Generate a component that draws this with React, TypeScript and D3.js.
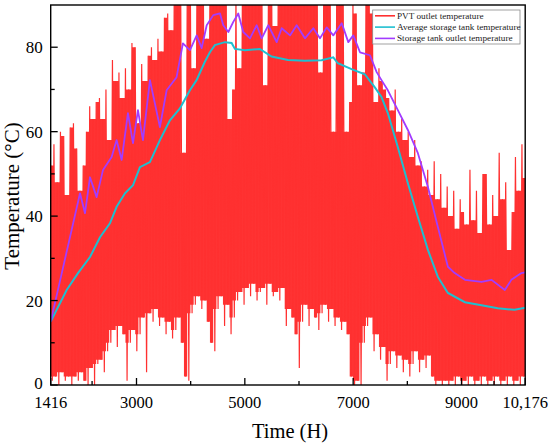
import * as d3 from "d3";

// PVT outlet temperature, sampled every 60 h from 1416 h: daily peak and night low
const pvtStartHour = 1416;
const pvtStepHours = 60;
const pvtHigh = [
  52, 57, 48, 60, 59, 45, 61, 62, 56, 46, 52, 60, 66, 63, 67, 68, 63, 70, 58, 77,
  72, 74, 68, 75, 70, 81, 80, 62, 76, 72, 78, 80, 77, 82, 79, 87, 88, 84, 92, 90,
  93, 55, 92, 90, 75, 94, 92, 90, 82, 95, 93, 92, 94, 90, 92, 63, 70, 93, 75, 95,
  92, 94, 91, 93, 95, 92, 71, 94, 93, 85, 92, 95, 93, 91, 94, 92, 95, 90, 93, 92,
  94, 90, 93, 74, 92, 94, 91, 60, 92, 93, 90, 60, 67, 92, 88, 71, 74, 90, 91, 88,
  67, 75, 72, 70, 68, 65, 70, 60, 63, 58, 60, 54, 58, 52, 53, 47, 51, 45, 53, 44,
  50, 42, 47, 40, 46, 37, 44, 41, 38, 51, 39, 46, 36, 50, 50, 38, 45, 40, 55, 44,
  48, 32, 41, 54, 46, 57, 49,
];
const pvtLow = [
  1, 2, 0, 3, 1, 2, 0, 2, 1, 3, 1, 0, 4, 0, 5, 6, 3, 8, 10, 13,
  9, 14, 12, 1, 10, 13, 8, 12, 16, 3, 17, 15, 18, 14, 16, 12, 15, 11, 13, 16,
  10, 2, 1, 17, 19, 21, 18, 20, 15, 10, 8, 18, 21, 14, 19, 12, 16, 20, 22, 19,
  23, 21, 24, 20, 22, 23, 19, 24, 21, 22, 20, 23, 14, 18, 16, 12, 4, 15, 19, 14,
  18, 16, 13, 17, 19, 15, 18, 14, 16, 13, 15, 12, 2, 0, 1, 0, 10, 14, 16, 8,
  12, 6, 9, 1, 5, 8, 4, 7, 3, 6, 2, 5, 8, 3, 6, 4, 7, 2, 0, 1,
  0, 1, 0, 1, 0, 2, 0, 1, 0, 2, 0, 1, 0, 2, 0, 1, 0, 2, 0, 1,
  0, 2, 0, 1, 0, 2, 0,
];

// Average storage tank temperature
const avgHours = [
  1416, 1711, 1920, 2141, 2326, 2510, 2633, 2787, 2935, 3063, 3248, 3432, 3617, 3801,
  3986, 4109, 4260, 4355, 4447, 4632, 4756, 4817, 5001, 5278, 5493, 5797, 6108, 6416,
  6633, 6717, 6970, 7215, 7400, 7523, 7640, 7825, 8010, 8195, 8380, 8564, 8749, 9063,
  9369, 9670, 9980, 10176,
];
const avgTemp = [
  15, 22.5, 26.5, 30.3, 35, 38.3, 42.2, 45.4, 47.3, 51.6, 52.8, 58, 62.7, 65.5,
  69.8, 72.2, 76.5, 78.8, 80.5, 81.2, 81, 79.6, 79.3, 79.6, 77.8, 77, 76.8, 76.9,
  77.6, 76.2, 74.8, 73.6, 70.5, 68.2, 64.4, 56.3, 47.8, 39.8, 32, 25.6, 21.8, 19.6,
  18.9, 18.2, 17.8, 18.3,
];

// Storage tank outlet temperature
const outletHours = [
  1416, 1957, 2049, 2141, 2264, 2381, 2541, 2633, 2726, 2842, 2935, 3027, 3119, 3248,
  3432, 3556, 3740, 3857, 3987, 4111, 4203, 4296, 4418, 4541, 4602, 4695, 4787, 4879,
  4971, 5095, 5219, 5311, 5433, 5588, 5680, 5834, 5957, 6110, 6264, 6387, 6511, 6633,
  6788, 6910, 7002, 7126, 7310, 7434, 7523, 7640, 7825, 8010, 8195, 8380, 8564, 8749,
  8875, 9063, 9369, 9555, 9800, 9920, 10106, 10176,
];
const outletTemp = [
  15, 45.4, 40.7, 49.2, 44.5, 50.9, 54, 58, 53.3, 64.4, 57.3, 65.1, 58, 72.2,
  61.1, 69.8, 72.9, 80.9, 79.3, 82.8, 79.8, 85.2, 87.6, 88, 85.2, 83.6, 86, 88,
  83.6, 82.1, 85.2, 82.1, 85.2, 81.2, 84.5, 82.8, 85.2, 82.1, 84.5, 82.1, 84.7, 82.8,
  85.7, 81.2, 82.8, 78.8, 78.1, 74.1, 72.2, 69.8, 65.1, 60.4, 54.9, 46.9, 37.4, 28,
  26.5, 24.9, 24.4, 24.9, 22.5, 24.9, 26.5, 26.7,
];

const xTickValues = [1416, 3000, 5000, 7000, 9000, 10176];
const xMinorTicks = [2180, 4000, 6000, 8000, 9600];
const yTickValues = [0, 20, 40, 60, 80];
const yMinorTicks = [10, 30, 50, 70];

const legendItems = [
  { label: "PVT outlet temperature", color: "#ff3030" },
  { label: "Average storage tank temperature", color: "#1fbfd0" },
  { label: "Storage tank outlet temperature", color: "#a23cff" },
];

const font = "'Liberation Serif', 'Times New Roman', serif";

export default function App() {
  const width = 550;
  const height = 446;
  const left = 50.7;
  const right = 525.2;
  const top = 5;
  const bottom = 385;

  const x = d3.scaleLinear().domain([1416, 10176]).range([left, right]);
  const y = d3.scaleLinear().domain([0, 90]).range([bottom, top]);

  // zigzag between each day's peak and the following night's low
  const pvtPoints: [number, number][] = [];
  pvtHigh.forEach((h, i) => {
    const t = pvtStartHour + i * pvtStepHours;
    pvtPoints.push([t, h]);
    pvtPoints.push([t + pvtStepHours / 2, pvtLow[i]]);
  });

  // the overlapping daily swings read as a solid band; fill that band too
  const band = pvtHigh.map((h, i) => {
    const next = Math.min(i + 1, pvtHigh.length - 1);
    return {
      t: pvtStartHour + i * pvtStepHours,
      hi: Math.min(h, pvtHigh[next]),
      lo: Math.max(pvtLow[i], pvtLow[next]),
    };
  });

  const line = d3
    .line<[number, number]>()
    .x((d) => x(d[0]))
    .y((d) => y(d[1]));

  const bandArea = d3
    .area<{ t: number; hi: number; lo: number }>()
    .x((d) => x(d.t))
    .y0((d) => y(d.lo))
    .y1((d) => y(d.hi))
    .curve(d3.curveStepAfter);

  const avgPath = line(avgHours.map((t, i) => [t, avgTemp[i]]));
  const outletPath = line(outletHours.map((t, i) => [t, outletTemp[i]]));
  const pvtPath = line(pvtPoints.filter((p) => p[0] <= 10176));

  return (
    <svg
      width={width}
      height={height}
      style={{ position: "absolute", left: 0, top: 0, background: "#fff" }}
      fontFamily={font}
    >
      <defs>
        <clipPath id="plotClip">
          <rect x={left} y={top} width={right - left} height={bottom - top} />
        </clipPath>
      </defs>

      <g clipPath="url(#plotClip)">
        <path d={bandArea(band) ?? ""} fill="#ff3333" />
        <path d={pvtPath ?? ""} fill="none" stroke="#ff3030" strokeWidth="1.2" />
        <path d={avgPath ?? ""} fill="none" stroke="#1fbfd0" strokeWidth="2" />
        <path d={outletPath ?? ""} fill="none" stroke="#a23cff" strokeWidth="1.8" strokeLinejoin="round" />
      </g>

      {/* frame */}
      <rect
        x={left}
        y={top}
        width={right - left}
        height={bottom - top}
        fill="none"
        stroke="#000"
        strokeWidth="1.4"
      />

      {/* y axis */}
      {yTickValues.map((v) => (
        <g key={`y${v}`}>
          <line x1={left} x2={left + 7} y1={y(v)} y2={y(v)} stroke="#000" strokeWidth="1.3" />
          <text x={left - 8} y={y(v) + (v === 0 ? 4 : 6)} textAnchor="end" fontSize="17" fill="#000">
            {v}
          </text>
        </g>
      ))}
      {yMinorTicks.map((v) => (
        <line key={`ym${v}`} x1={left} x2={left + 4} y1={y(v)} y2={y(v)} stroke="#000" strokeWidth="1.3" />
      ))}

      {/* x axis */}
      {xTickValues.map((v) => (
        <g key={`x${v}`}>
          <line x1={x(v)} x2={x(v)} y1={bottom} y2={bottom - 7} stroke="#000" strokeWidth="1.3" />
          <text x={x(v)} y={408} textAnchor="middle" fontSize="16.5" fill="#000">
            {d3.format(v > 10000 ? "," : "d")(v)}
          </text>
        </g>
      ))}
      {xMinorTicks.map((v) => (
        <line key={`xm${v}`} x1={x(v)} x2={x(v)} y1={bottom} y2={bottom - 4} stroke="#000" strokeWidth="1.3" />
      ))}

      <text x={290} y={438} textAnchor="middle" fontSize="20.5" fill="#000">
        Time (H)
      </text>
      <text
        transform={`translate(19, 196) rotate(-90)`}
        textAnchor="middle"
        fontSize="21"
        fill="#000"
      >
        Temperature (°C)
      </text>

      {/* legend */}
      <rect x={372.7} y={10} width={147.3} height={34} fill="#fff" stroke="#8a8a8a" strokeWidth="0.8" />
      {legendItems.map((item, i) => {
        const ly = 15.8 + i * 11.3;
        return (
          <g key={item.label}>
            <line x1={375} x2={395} y1={ly} y2={ly} stroke={item.color} strokeWidth="1.6" />
            <text x={397} y={ly + 3} fontSize="9.2" fill="#222">
              {item.label}
            </text>
          </g>
        );
      })}
    </svg>
  );
}
